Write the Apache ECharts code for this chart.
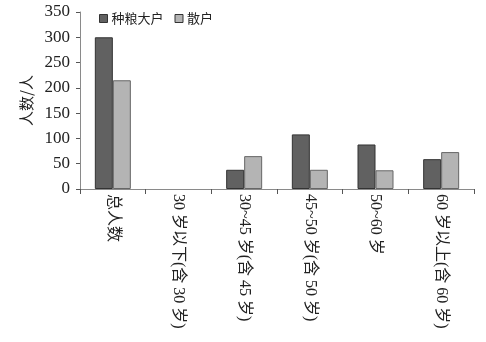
<!DOCTYPE html>
<html><head><meta charset="utf-8">
<script src="https://cdn.jsdelivr.net/npm/echarts@6/dist/echarts.min.js"></script>
<style>html,body{margin:0;padding:0;background:#fff}#c{width:486px;height:342px}</style>
</head><body><div id="c"></div>
<script>
const categories = ['总人数','30 岁以下(含 30 岁)','30~45 岁(含 45 岁)','45~50 岁(含 50 岁)','50~60 岁','60 岁以上(含 60 岁)'];
const bigFarmers = [300, 0, 38, 108, 88, 59];
const smallFarmers = [215, 0, 65, 38, 37, 73];
const seriesNames = ['种粮大户','散户'];

const serifF = '"Liberation Serif","Noto Sans CJK SC",serif';
const hideZero = arr => arr.map(v => v === 0 ? {value: 0, itemStyle: {borderWidth: 0, opacity: 0}} : v);

const chart = echarts.init(document.getElementById('c'));
chart.setOption({
  animation:false,
  textStyle:{fontFamily:serifF},
  legend:{
    left:94, top:7, itemWidth:8, itemHeight:8, itemGap:11,
    icon:'rect',
    textStyle:{fontSize:13, color:'#222', fontFamily:'"Noto Sans CJK SC",sans-serif', padding:[0,0,0,-1]},
    data:seriesNames.map((n,i)=>({name:n, itemStyle:{borderColor:'#333', borderWidth:1}}))
  },
  grid:{left:80, right:12, top:12, bottom:153},
  xAxis:{
    type:'category', data:categories,
    axisLine:{lineStyle:{color:'#8a8a8a'}},
    axisTick:{show:true, length:5, lineStyle:{color:'#555'}},
    axisLabel:{rotate:-90, interval:0, fontSize:16, color:'#222', margin:5, fontFamily:serifF}
  },
  yAxis:{
    type:'value', min:0, max:350, interval:50,
    name:'人数/人', nameLocation:'middle', nameGap:44, nameRotate:90,
    nameTextStyle:{fontSize:15, color:'#222', fontFamily:'"Noto Sans CJK SC",serif'},
    axisLine:{show:true, lineStyle:{color:'#8a8a8a'}},
    axisTick:{show:true, length:4, lineStyle:{color:'#555'}},
    splitLine:{show:false},
    axisLabel:{fontSize:17, color:'#222', margin:10, fontFamily:serifF}
  },
  series:[
    {name:seriesNames[0], type:'bar', data:hideZero(bigFarmers), barWidth:18, barGap:'0%',
     itemStyle:{color:'#616161', borderColor:'#333', borderWidth:1}},
    {name:seriesNames[1], type:'bar', data:hideZero(smallFarmers), barWidth:18,
     itemStyle:{color:'#b4b4b4', borderColor:'#666', borderWidth:1}}
  ]
});
</script></body></html>
